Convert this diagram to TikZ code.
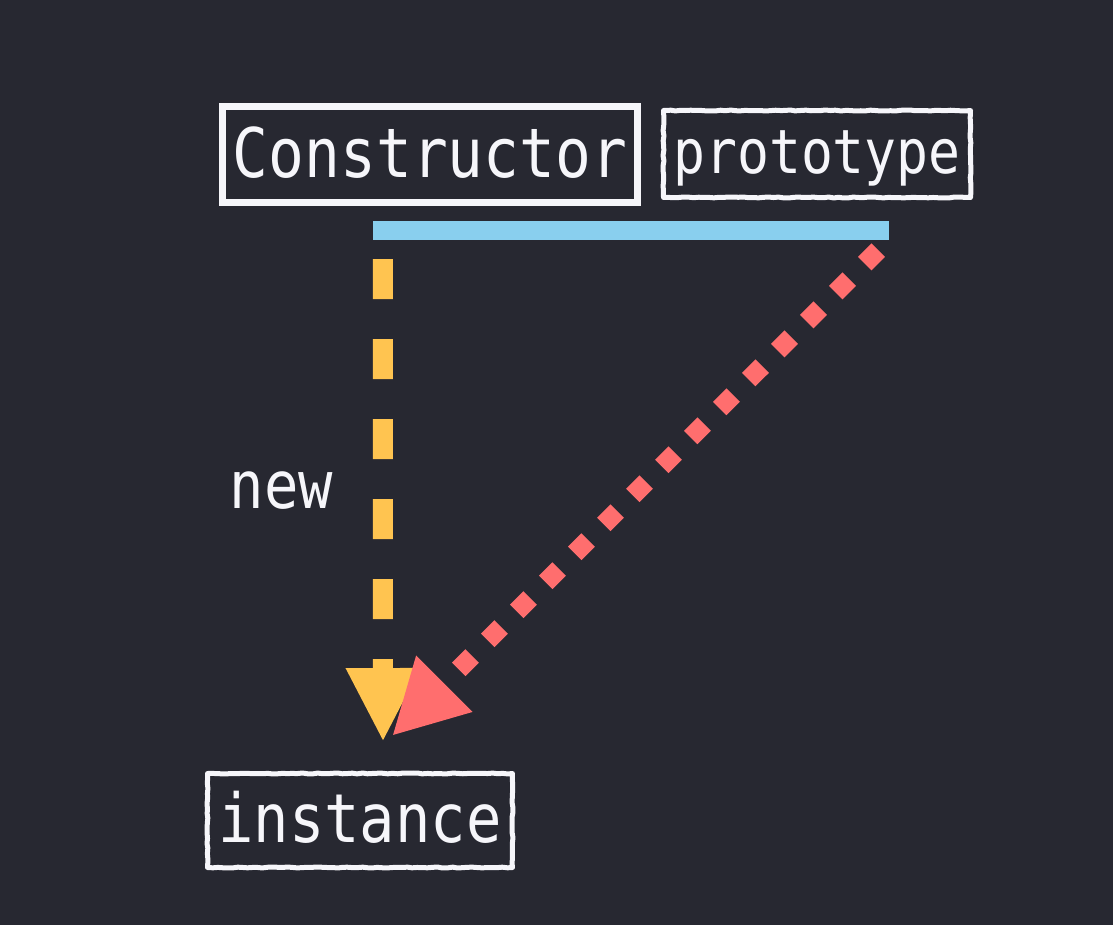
\documentclass[tikz,border=0pt]{standalone}
\usepackage{fontspec}
\usetikzlibrary{calc,arrows.meta,decorations.pathmorphing}
\newfontfamily\codefont[FakeStretch=0.87]{DejaVu Sans Mono}
\definecolor{fondo}{RGB}{39,40,49}
\definecolor{tinta}{RGB}{246,246,250}
\definecolor{barra}{RGB}{137,207,238}
\definecolor{amarillo}{RGB}{255,196,80}
\definecolor{rojo}{RGB}{255,110,110}
\pgfmathsetseed{7}
\begin{document}
\begin{tikzpicture}[
      x=1pt, y=-1pt,
      caja/.style={draw=tinta, line width=7pt, text=tinta, inner sep=0pt,
                   minimum width=415pt, minimum height=96pt},
      aspera/.style={draw=tinta, line width=5pt, text=tinta, inner sep=0pt, line join=round,
                     decorate, decoration={random steps, segment length=5pt, amplitude=0.5pt},
                     postaction={draw=tinta, line width=1.2pt, decorate,
                                 decoration={random steps, segment length=3pt, amplitude=1.6pt}}},
      texto/.style={text=tinta, inner sep=0pt},
      nuevo/.style={draw=amarillo, line width=20pt, dash pattern=on 40pt off 40pt,
                    -{Triangle[width=69pt,length=74pt]}},
      proto/.style={draw=rojo, line width=19pt, dash pattern=on 19pt off 22pt,
                    -{Triangle[width=74pt,length=74pt]}}
    ]
    \fill[fondo] (0,0) rectangle (1113,925);

    \node[caja, text height=48pt, text depth=1pt] (c) at (430,154.5)
         {\codefont\fontsize{68.4}{70}\selectfont Constructor};
    \node[aspera, minimum width=307pt, minimum height=87pt, text height=52pt, text depth=12pt]
         (p) at (817,154) {\codefont\fontsize{61}{62}\selectfont prototype};
    \node[aspera, minimum width=305pt, minimum height=94pt, text height=44pt, text depth=1pt]
         (i) at (360,820.5) {\codefont\fontsize{67.6}{69}\selectfont instance};
    \node[fill=barra, inner sep=0pt, minimum width=516pt, minimum height=19pt] (b) at (631,230.5) {};
    \node[texto, anchor=base] (n) at (281.5,508) {\codefont\fontsize{65.7}{67}\selectfont new};

    \coordinate (t1) at (383,742);
    \coordinate (t2) at (392,736);

    \draw[nuevo] ($(b.south west)+(10,19)$) -- (t1);
    \draw[proto] ($(b.south east)+(-11,10)$) -- (t2);
  \end{tikzpicture}
\end{document}
